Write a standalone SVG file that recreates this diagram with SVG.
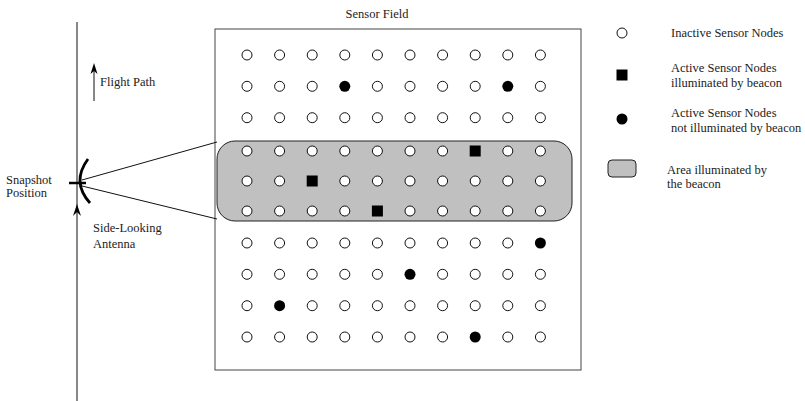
<svg xmlns="http://www.w3.org/2000/svg" xmlns:xlink="http://www.w3.org/1999/xlink" width="805" height="401" viewBox="0 0 805 401">
<style>
text{font-family:"Liberation Serif","Times New Roman",serif;font-size:12.5px;fill:#222}
.ln{stroke:#111;stroke-width:1;fill:none}
</style>
<defs>
<circle id="o" r="5" fill="#fff" stroke="#111" stroke-width="1"/>
<circle id="d" r="5.5" fill="#000"/>
<rect id="s" x="-5.5" y="-5.5" width="11" height="11" fill="#000"/>
</defs>
<rect width="805" height="401" fill="#fff"/>
<g id="field">
<text x="377" y="18" text-anchor="middle">Sensor Field</text>
<rect x="215" y="29" width="366" height="341" fill="#fff" stroke="#444" stroke-width="1"/>
<rect id="beam-area" x="217" y="141" width="355" height="80" rx="18" fill="#c0c0c0" stroke="#222" stroke-width="1"/>
</g>
<g id="connectors">
<line class="ln" x1="77" y1="22" x2="77" y2="401"/>
<line class="ln" x1="82" y1="180" x2="217" y2="142"/>
<line class="ln" x1="82" y1="186" x2="217" y2="219"/>
<line class="ln" x1="94" y1="101" x2="94" y2="68"/>
<path d="M94,63 L90.5,74 L94,71 L97.5,74 Z" fill="#000"/>
<path d="M77,204 L73,216 L77,212 L81,216 Z" fill="#000"/>
</g>
<g id="antenna">
<path d="M88,159 Q71,182 90,203" fill="none" stroke="#000" stroke-width="2.8"/>
<line x1="69" y1="183" x2="86" y2="183" stroke="#000" stroke-width="2.5"/>
</g>
<g id="labels">
<text x="100" y="86">Flight Path</text>
<text x="6" y="184">Snapshot</text>
<text x="6" y="197">Position</text>
<text x="93" y="232">Side-Looking</text>
<text x="93" y="248">Antenna</text>
</g>
<g id="legend">
<g id="legend-inactive"><use xlink:href="#o" x="622" y="33"/><text x="671" y="37">Inactive Sensor Nodes</text></g>
<g id="legend-active-illum"><use xlink:href="#s" x="622" y="75"/><text x="671" y="72">Active Sensor Nodes</text><text x="671" y="87">illuminated by beacon</text></g>
<g id="legend-active-not"><use xlink:href="#d" x="622" y="119"/><text x="671" y="117">Active Sensor Nodes</text><text x="671" y="132">not illuminated by beacon</text></g>
<g id="legend-area"><rect x="608" y="160" width="28" height="17" rx="4" fill="#c0c0c0" stroke="#222" stroke-width="1"/><text x="667" y="174">Area illuminated by</text><text x="667" y="188">the beacon</text></g>
</g>
<g id="sensors">
<g id="r1">
<g id="n1-1"><use xlink:href="#o" x="247" y="55"/></g><g id="n1-2"><use xlink:href="#o" x="279.6" y="55"/></g><g id="n1-3"><use xlink:href="#o" x="312.2" y="55"/></g><g id="n1-4"><use xlink:href="#o" x="344.8" y="55"/></g><g id="n1-5"><use xlink:href="#o" x="377.4" y="55"/></g><g id="n1-6"><use xlink:href="#o" x="410" y="55"/></g><g id="n1-7"><use xlink:href="#o" x="442.6" y="55"/></g><g id="n1-8"><use xlink:href="#o" x="475.2" y="55"/></g><g id="n1-9"><use xlink:href="#o" x="507.8" y="55"/></g><g id="n1-10"><use xlink:href="#o" x="540.4" y="55"/></g>
</g>
<g id="r2">
<g id="n2-1"><use xlink:href="#o" x="247" y="86.3"/></g><g id="n2-2"><use xlink:href="#o" x="279.6" y="86.3"/></g><g id="n2-3"><use xlink:href="#o" x="312.2" y="86.3"/></g><g id="n2-4"><use xlink:href="#d" x="344.8" y="86.3"/></g><g id="n2-5"><use xlink:href="#o" x="377.4" y="86.3"/></g><g id="n2-6"><use xlink:href="#o" x="410" y="86.3"/></g><g id="n2-7"><use xlink:href="#o" x="442.6" y="86.3"/></g><g id="n2-8"><use xlink:href="#o" x="475.2" y="86.3"/></g><g id="n2-9"><use xlink:href="#d" x="507.8" y="86.3"/></g><g id="n2-10"><use xlink:href="#o" x="540.4" y="86.3"/></g>
</g>
<g id="r3">
<g id="n3-1"><use xlink:href="#o" x="247" y="117.7"/></g><g id="n3-2"><use xlink:href="#o" x="279.6" y="117.7"/></g><g id="n3-3"><use xlink:href="#o" x="312.2" y="117.7"/></g><g id="n3-4"><use xlink:href="#o" x="344.8" y="117.7"/></g><g id="n3-5"><use xlink:href="#o" x="377.4" y="117.7"/></g><g id="n3-6"><use xlink:href="#o" x="410" y="117.7"/></g><g id="n3-7"><use xlink:href="#o" x="442.6" y="117.7"/></g><g id="n3-8"><use xlink:href="#o" x="475.2" y="117.7"/></g><g id="n3-9"><use xlink:href="#o" x="507.8" y="117.7"/></g><g id="n3-10"><use xlink:href="#o" x="540.4" y="117.7"/></g>
</g>
<g id="r4">
<g id="n4-1"><use xlink:href="#o" x="247" y="151"/></g><g id="n4-2"><use xlink:href="#o" x="279.6" y="151"/></g><g id="n4-3"><use xlink:href="#o" x="312.2" y="151"/></g><g id="n4-4"><use xlink:href="#o" x="344.8" y="151"/></g><g id="n4-5"><use xlink:href="#o" x="377.4" y="151"/></g><g id="n4-6"><use xlink:href="#o" x="410" y="151"/></g><g id="n4-7"><use xlink:href="#o" x="442.6" y="151"/></g><g id="n4-8"><use xlink:href="#s" x="475.2" y="151"/></g><g id="n4-9"><use xlink:href="#o" x="507.8" y="151"/></g><g id="n4-10"><use xlink:href="#o" x="540.4" y="151"/></g>
</g>
<g id="r5">
<g id="n5-1"><use xlink:href="#o" x="247" y="181"/></g><g id="n5-2"><use xlink:href="#o" x="279.6" y="181"/></g><g id="n5-3"><use xlink:href="#s" x="312.2" y="181"/></g><g id="n5-4"><use xlink:href="#o" x="344.8" y="181"/></g><g id="n5-5"><use xlink:href="#o" x="377.4" y="181"/></g><g id="n5-6"><use xlink:href="#o" x="410" y="181"/></g><g id="n5-7"><use xlink:href="#o" x="442.6" y="181"/></g><g id="n5-8"><use xlink:href="#o" x="475.2" y="181"/></g><g id="n5-9"><use xlink:href="#o" x="507.8" y="181"/></g><g id="n5-10"><use xlink:href="#o" x="540.4" y="181"/></g>
</g>
<g id="r6">
<g id="n6-1"><use xlink:href="#o" x="247" y="211"/></g><g id="n6-2"><use xlink:href="#o" x="279.6" y="211"/></g><g id="n6-3"><use xlink:href="#o" x="312.2" y="211"/></g><g id="n6-4"><use xlink:href="#o" x="344.8" y="211"/></g><g id="n6-5"><use xlink:href="#s" x="377.4" y="211"/></g><g id="n6-6"><use xlink:href="#o" x="410" y="211"/></g><g id="n6-7"><use xlink:href="#o" x="442.6" y="211"/></g><g id="n6-8"><use xlink:href="#o" x="475.2" y="211"/></g><g id="n6-9"><use xlink:href="#o" x="507.8" y="211"/></g><g id="n6-10"><use xlink:href="#o" x="540.4" y="211"/></g>
</g>
<g id="r7">
<g id="n7-1"><use xlink:href="#o" x="247" y="243"/></g><g id="n7-2"><use xlink:href="#o" x="279.6" y="243"/></g><g id="n7-3"><use xlink:href="#o" x="312.2" y="243"/></g><g id="n7-4"><use xlink:href="#o" x="344.8" y="243"/></g><g id="n7-5"><use xlink:href="#o" x="377.4" y="243"/></g><g id="n7-6"><use xlink:href="#o" x="410" y="243"/></g><g id="n7-7"><use xlink:href="#o" x="442.6" y="243"/></g><g id="n7-8"><use xlink:href="#o" x="475.2" y="243"/></g><g id="n7-9"><use xlink:href="#o" x="507.8" y="243"/></g><g id="n7-10"><use xlink:href="#d" x="540.4" y="243"/></g>
</g>
<g id="r8">
<g id="n8-1"><use xlink:href="#o" x="247" y="274.3"/></g><g id="n8-2"><use xlink:href="#o" x="279.6" y="274.3"/></g><g id="n8-3"><use xlink:href="#o" x="312.2" y="274.3"/></g><g id="n8-4"><use xlink:href="#o" x="344.8" y="274.3"/></g><g id="n8-5"><use xlink:href="#o" x="377.4" y="274.3"/></g><g id="n8-6"><use xlink:href="#d" x="410" y="274.3"/></g><g id="n8-7"><use xlink:href="#o" x="442.6" y="274.3"/></g><g id="n8-8"><use xlink:href="#o" x="475.2" y="274.3"/></g><g id="n8-9"><use xlink:href="#o" x="507.8" y="274.3"/></g><g id="n8-10"><use xlink:href="#o" x="540.4" y="274.3"/></g>
</g>
<g id="r9">
<g id="n9-1"><use xlink:href="#o" x="247" y="305.7"/></g><g id="n9-2"><use xlink:href="#d" x="279.6" y="305.7"/></g><g id="n9-3"><use xlink:href="#o" x="312.2" y="305.7"/></g><g id="n9-4"><use xlink:href="#o" x="344.8" y="305.7"/></g><g id="n9-5"><use xlink:href="#o" x="377.4" y="305.7"/></g><g id="n9-6"><use xlink:href="#o" x="410" y="305.7"/></g><g id="n9-7"><use xlink:href="#o" x="442.6" y="305.7"/></g><g id="n9-8"><use xlink:href="#o" x="475.2" y="305.7"/></g><g id="n9-9"><use xlink:href="#o" x="507.8" y="305.7"/></g><g id="n9-10"><use xlink:href="#o" x="540.4" y="305.7"/></g>
</g>
<g id="r10">
<g id="n10-1"><use xlink:href="#o" x="247" y="337"/></g><g id="n10-2"><use xlink:href="#o" x="279.6" y="337"/></g><g id="n10-3"><use xlink:href="#o" x="312.2" y="337"/></g><g id="n10-4"><use xlink:href="#o" x="344.8" y="337"/></g><g id="n10-5"><use xlink:href="#o" x="377.4" y="337"/></g><g id="n10-6"><use xlink:href="#o" x="410" y="337"/></g><g id="n10-7"><use xlink:href="#o" x="442.6" y="337"/></g><g id="n10-8"><use xlink:href="#d" x="475.2" y="337"/></g><g id="n10-9"><use xlink:href="#o" x="507.8" y="337"/></g><g id="n10-10"><use xlink:href="#o" x="540.4" y="337"/></g>
</g>
</g>
</svg>
